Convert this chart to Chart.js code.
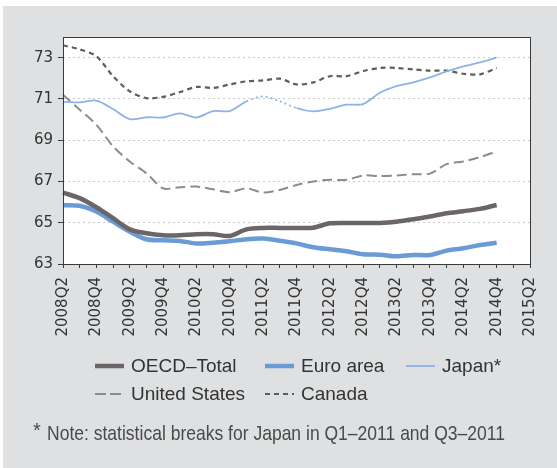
<!DOCTYPE html>
<html>
<head>
<meta charset="utf-8">
<script src="https://cdn.jsdelivr.net/npm/chart.js@4"></script>
<style>
  html, body { margin: 0; padding: 0; background: #fff; }
  canvas { display: block; }
</style>
</head>
<body>
<canvas id="chart" width="557" height="468"></canvas>
<script>
// ============================================================
// DATA
// ============================================================
const quarters = [
  '2008Q2', '2008Q3', '2008Q4', '2009Q1', '2009Q2', '2009Q3', '2009Q4', '2010Q1',
  '2010Q2', '2010Q3', '2010Q4', '2011Q1', '2011Q2', '2011Q3', '2011Q4', '2012Q1',
  '2012Q2', '2012Q3', '2012Q4', '2013Q1', '2013Q2', '2013Q3', '2013Q4', '2014Q1',
  '2014Q2', '2014Q3', '2014Q4', '2015Q1', '2015Q2'
];
const yTicks = [63, 65, 67, 69, 71, 73];

const oecdTotal = [66.46, 66.19, 65.75, 65.22, 64.68, 64.49, 64.39, 64.39, 64.44, 64.44,
  64.36, 64.68, 64.75, 64.75, 64.75, 64.76, 64.97, 64.99, 64.99, 64.99,
  65.05, 65.17, 65.30, 65.46, 65.56, 65.67, 65.86];
const euroArea = [65.85, 65.82, 65.54, 65.05, 64.57, 64.20, 64.15, 64.12, 63.99, 64.03,
  64.10, 64.20, 64.23, 64.13, 64.00, 63.81, 63.71, 63.62, 63.47, 63.45,
  63.37, 63.44, 63.44, 63.65, 63.76, 63.92, 64.03];
const japan = [70.86, 70.83, 70.92, 70.51, 70.02, 70.11, 70.10, 70.30, 70.10, 70.41,
  70.41, 70.88, 71.12, 70.88, 70.56, 70.40, 70.52, 70.72, 70.75, 71.30,
  71.62, 71.80, 72.04, 72.33, 72.58, 72.77, 73.01];
const unitedStates = [71.20, 70.48, 69.75, 68.70, 67.97, 67.40, 66.67, 66.72, 66.75, 66.62,
  66.48, 66.67, 66.46, 66.59, 66.83, 67.00, 67.08, 67.08, 67.29, 67.26,
  67.29, 67.35, 67.38, 67.84, 67.97, 68.18, 68.45];
const canada = [73.60, 73.40, 73.07, 72.10, 71.37, 71.04, 71.10, 71.33, 71.58, 71.53,
  71.70, 71.85, 71.90, 71.98, 71.70, 71.80, 72.10, 72.10, 72.35, 72.50,
  72.50, 72.43, 72.37, 72.37, 72.22, 72.19, 72.50];

// Japan statistical breaks: Q1-2011 .. Q3-2011 drawn dotted
const japanBreakFrom = 11, japanBreakTo = 14;

const footnote = 'Note: statistical breaks for Japan in Q1\u20132011 and Q3\u20132011';

// ============================================================
// PLUGINS
// ============================================================
const panelBg = {
  id: 'panelBg',
  beforeDraw(chart) {
    const { ctx, chartArea: { left, top, right, bottom } } = chart;
    ctx.save();
    ctx.fillStyle = '#ffffff';
    ctx.fillRect(0, 0, chart.width, chart.height);
    ctx.fillStyle = '#dfe0e2';
    ctx.fillRect(3, 6, chart.width - 3, chart.height - 6);
    ctx.fillStyle = '#ffffff';
    ctx.fillRect(left, top, right - left, bottom - top);
    ctx.restore();
  },
  afterDraw(chart) {
    const { ctx, chartArea: { left, top, right, bottom } } = chart;
    ctx.save();
    ctx.strokeStyle = '#3a3a3a';
    ctx.lineWidth = 1;
    ctx.strokeRect(left + 0.5, top + 0.5, right - left, bottom - top);
    ctx.restore();
  }
};

// legend in a 3-column grid, like the original
const gridLegend = {
  id: 'gridLegend',
  afterDraw(chart) {
    const ctx = chart.ctx;
    const colX = [95, 265, 406];
    const rowY = [366, 394];
    const cells = [[0, 0], [1, 0], [2, 0], [0, 1], [1, 1]];
    ctx.save();
    chart.data.datasets.forEach((ds, i) => {
      const x = colX[cells[i][0]], y = rowY[cells[i][1]];
      ctx.beginPath();
      ctx.strokeStyle = ds.borderColor;
      ctx.lineWidth = ds.borderWidth;
      ctx.setLineDash(ds.legendDash || []);
      ctx.moveTo(x, y);
      ctx.lineTo(x + 29, y);
      ctx.stroke();
      ctx.setLineDash([]);
      ctx.fillStyle = '#333333';
      ctx.font = '19px "Liberation Sans", Arial, sans-serif';
      ctx.textBaseline = 'middle';
      ctx.fillText(ds.label, x + 36, y + 1);
    });

    // footnote, condensed to the original width
    ctx.fillStyle = '#4a4a4a';
    ctx.font = '20px "Liberation Sans", Arial, sans-serif';
    ctx.textBaseline = 'alphabetic';
    ctx.fillText('*', 33, 437);
    ctx.font = '21px "Liberation Sans", Arial, sans-serif';
    const w = ctx.measureText(footnote).width;
    ctx.translate(47, 440);
    ctx.scale(458 / w, 1);
    ctx.fillText(footnote, 0, 0);
    ctx.restore();
  }
};

// ============================================================
// CHART
// ============================================================
const tickFont = { size: 15, family: 'DejaVu Sans' };

new Chart(document.getElementById('chart').getContext('2d'), {
  type: 'line',
  data: {
    labels: quarters,
    datasets: [
      { label: 'OECD\u2013Total', data: oecdTotal, borderColor: '#6b6567', borderWidth: 4.5 },
      { label: 'Euro area', data: euroArea, borderColor: '#6a9bd6', borderWidth: 4.5 },
      {
        label: 'Japan*', data: japan, borderColor: '#8fb2e6', borderWidth: 1.8,
        segment: {
          borderDash: c => (c.p0DataIndex >= japanBreakFrom && c.p0DataIndex < japanBreakTo) ? [2, 3] : undefined
        }
      },
      { label: 'United States', data: unitedStates, borderColor: '#8c8c8c', borderWidth: 2, borderDash: [10, 5], legendDash: [11, 4] },
      { label: 'Canada', data: canada, borderColor: '#5e5e5e', borderWidth: 2.2, borderDash: [5, 4], legendDash: [5, 4] },
    ]
  },
  options: {
    responsive: false, animation: false, devicePixelRatio: 1,
    layout: { padding: { left: 0, top: 37, right: 24, bottom: 0 } },
    elements: { point: { radius: 0 }, line: { tension: 0.3, fill: false } },
    plugins: { legend: { display: false }, tooltip: { enabled: false } },
    scales: {
      x: {
        offset: false,
        afterFit(scale) { scale.height = 204; },
        grid: { display: true, drawOnChartArea: false, drawTicks: true, tickLength: 4, tickColor: '#3a3a3a', offset: false },
        border: { display: false },
        ticks: {
          autoSkip: false, maxRotation: 90, minRotation: 90, padding: 9,
          color: '#333333', font: tickFont,
          callback(v, i) { return i % 2 === 0 ? quarters[i] : ''; }
        }
      },
      y: {
        min: 63, max: 74,
        afterFit(scale) { scale.width = 63; },
        afterBuildTicks(scale) { scale.ticks = yTicks.map(v => ({ value: v })); },
        grid: { color: '#c9c9c9', lineWidth: 1, tickLength: 5, tickColor: '#3a3a3a', tickBorderDash: [] },
        border: { display: false, dash: [2, 3] },
        ticks: { color: '#333333', font: tickFont, padding: 5 }
      }
    }
  },
  plugins: [panelBg, gridLegend]
});
</script>
</body>
</html>
